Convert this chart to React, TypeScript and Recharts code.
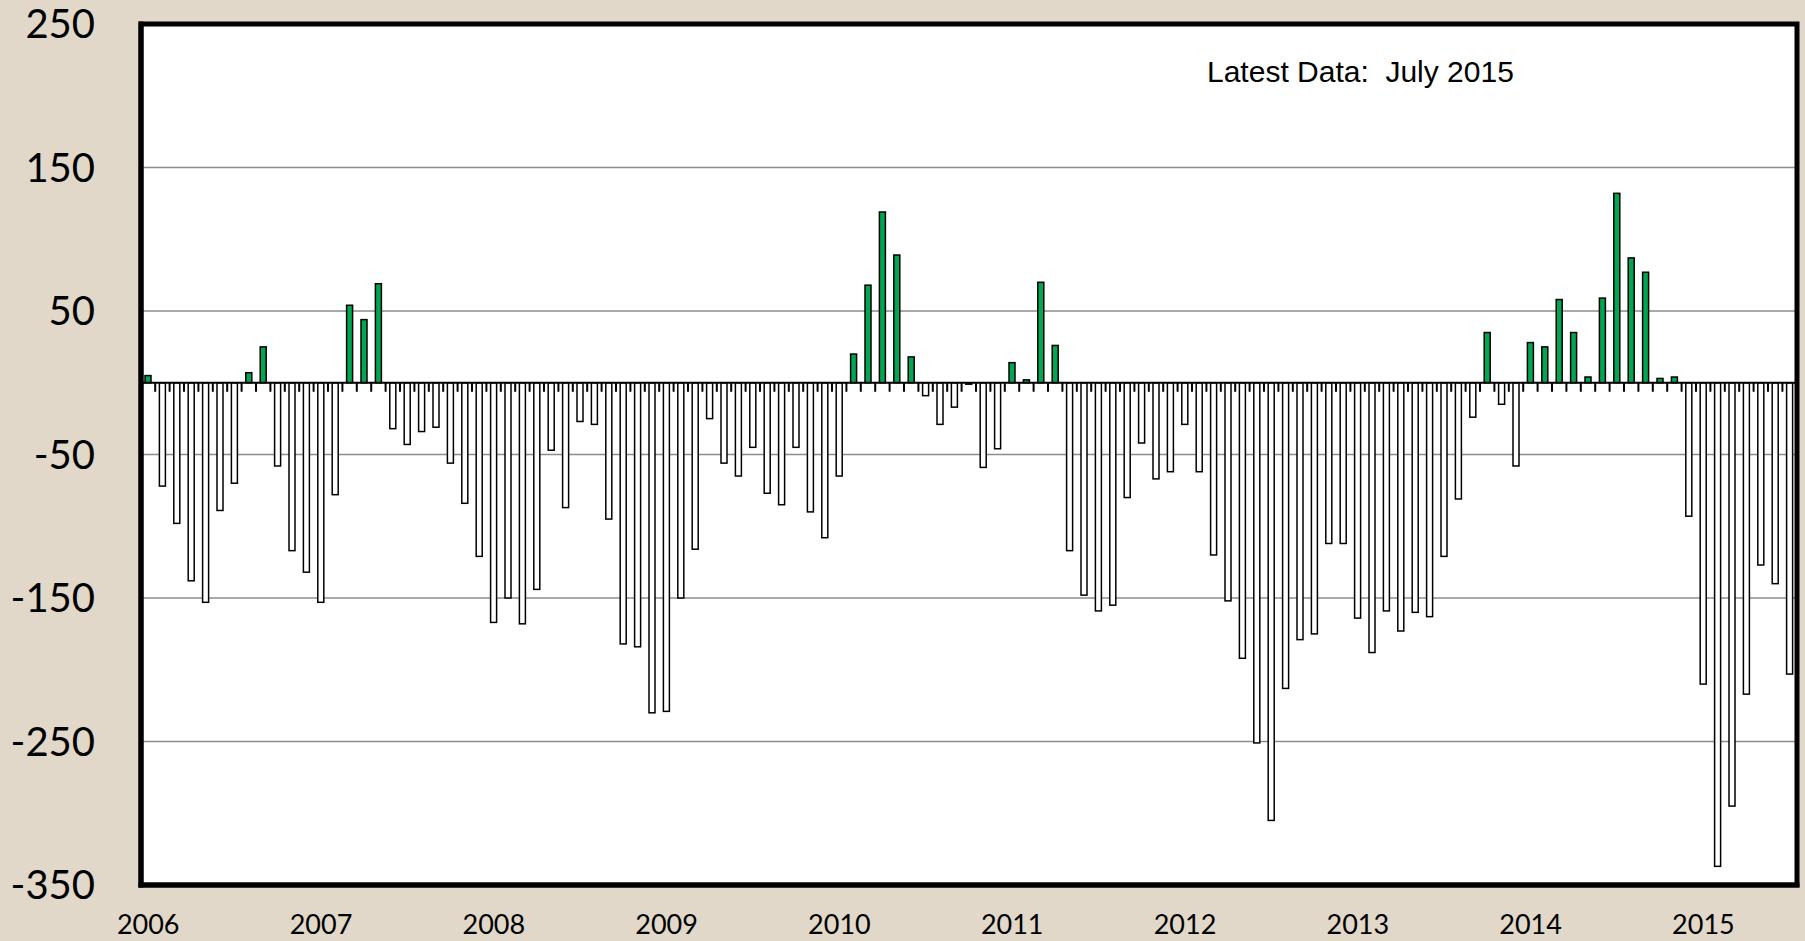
import { Bar, BarChart, CartesianGrid, Cell, ReferenceArea, ReferenceLine, XAxis, YAxis } from "recharts";

// monthly values
const v2006 = [5, -72, -98, -138, -153, -89, -70, 7, 25, -58, -117, -132];
const v2007 = [-153, -78, 54, 44, 69, -32, -43, -34, -31, -56, -84, -121];
const v2008 = [-167, -150, -168, -144, -47, -87, -27, -29, -95, -182, -184, -230];
const v2009 = [-229, -150, -116, -25, -56, -65, -45, -77, -85, -45, -90, -108];
const v2010 = [-65, 20, 68, 119, 89, 18, -9, -29, -17, -1, -59, -46];
const v2011 = [14, 2, 70, 26, -117, -148, -159, -155, -80, -42, -67, -62];
const v2012 = [-29, -62, -120, -152, -192, -251, -305, -213, -179, -175, -112, -112];
const v2013 = [-164, -188, -159, -173, -160, -163, -121, -81, -24, 35, -15, -58];
const v2014 = [28, 25, 58, 35, 4, 59, 132, 87, 77, 3, 4, -93];
const v2015 = [-210, -337, -295, -217, -127, -140, -203];

const years = ["2006", "2007", "2008", "2009", "2010", "2011", "2012", "2013", "2014", "2015"];
const months = ["01", "02", "03", "04", "05", "06", "07", "08", "09", "10", "11", "12"];
const yTicks = [-350, -250, -150, -50, 50, 150, 250];

const series = [v2006, v2007, v2008, v2009, v2010, v2011, v2012, v2013, v2014, v2015];
const data = series.flatMap((vals, i) =>
  vals.map((v, m) => ({ month: `${years[i]}-${months[m]}`, v }))
);
const janTicks = years.map((y) => `${y}-01`);

const W = 1805;
const H = 941;
const LEFT = 141;
const RIGHT = 8;
const BAND = (W - LEFT - RIGHT) / data.length;

const GREEN = "#00a651";

// bar plus the small category tick hanging under the zero line
const BarWithTick = (props: any) => {
  const { x, y, width, height, fill, payload } = props;
  const top = Math.min(y, y + height);
  const bottom = Math.max(y, y + height);
  const base = payload.v >= 0 ? bottom : top;
  const tx = x + width / 2 - BAND / 2;
  return (
    <g>
      <line x1={tx} x2={tx} y1={base} y2={base + 9} stroke="#000" strokeWidth={2} />
      <rect x={x} y={top} width={width} height={Math.max(bottom - top, 0.5)} fill={fill} stroke="#000" strokeWidth={1.5} />
    </g>
  );
};

const border = { stroke: "#000", strokeWidth: 5, strokeLinecap: "square" as const };

function App() {
  return (
    <div style={{ position: "absolute", left: 0, top: 0, width: W, height: H, background: "#e1d8c9" }}>
      <BarChart width={W} height={H} data={data} margin={{ top: 24, right: RIGHT, bottom: 0, left: 0 }}>
        <CartesianGrid vertical={false} fill="#ffffff" stroke="#8c8c8c" strokeWidth={1.5} />
        <XAxis
          dataKey="month"
          ticks={janTicks}
          interval={0}
          tickFormatter={(m: string) => m.slice(0, 4)}
          height={56}
          tickLine={false}
          tickSize={0}
          tickMargin={30}
          axisLine={border}
          tick={{ fontFamily: "Lato", fontSize: 27, fill: "#000" }}
        />
        <YAxis
          type="number"
          domain={[-350, 250]}
          ticks={yTicks}
          interval={0}
          width={LEFT}
          tickLine={false}
          tickSize={0}
          tickMargin={46}
          axisLine={border}
          tick={{ fontFamily: "Lato", fontSize: 40, fill: "#000" }}
        />
        <Bar dataKey="v" barSize={6} shape={BarWithTick} isAnimationActive={false}>
          {data.map((d) => (
            <Cell key={d.month} fill={d.v >= 0 ? GREEN : "#ffffff"} />
          ))}
        </Bar>
        <ReferenceLine y={0} stroke="#000" strokeWidth={2} />
        <ReferenceArea y1={-350} y2={250} fill="none" stroke="#000" strokeWidth={5} ifOverflow="visible" />
      </BarChart>
      <div
        style={{
          position: "absolute",
          left: 1207,
          top: 57,
          fontFamily: "'Liberation Sans', Arial, sans-serif",
          fontSize: 30,
          lineHeight: "30px",
          whiteSpace: "pre",
          color: "#000",
        }}
      >
        {"Latest Data:  July 2015"}
      </div>
    </div>
  );
}

export default App;
